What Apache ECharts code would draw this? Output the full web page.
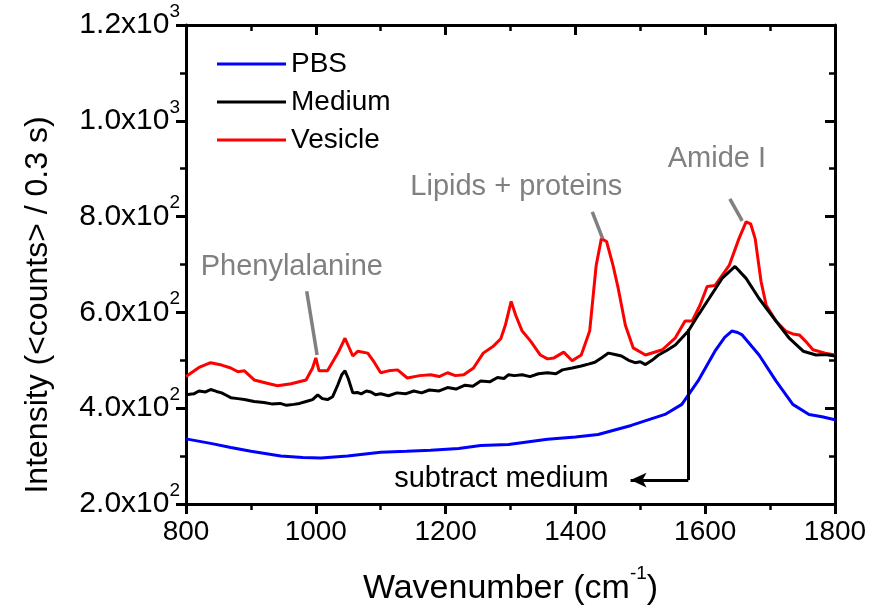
<!DOCTYPE html>
<html><head><meta charset="utf-8">
<script src="https://cdn.jsdelivr.net/npm/echarts@6/dist/echarts.min.js"></script>
<style>html,body{margin:0;padding:0;background:#fff}#c{width:883px;height:613px}</style>
</head><body><div id="c"></div>
<script>
var xTicks = [800, 1000, 1200, 1400, 1600, 1800];
var yTicks = [200, 400, 600, 800, 1000, 1200];

var pbsX = [800, 803, 840, 869, 900, 946, 980, 1008, 1049, 1100, 1140, 1177, 1220, 1254, 1297, 1357, 1400, 1435, 1486, 1538, 1564, 1589, 1615, 1630, 1641, 1650, 1657, 1683, 1709, 1735, 1760, 1780, 1800];
var pbsY = [336, 335, 326, 318, 310, 300, 297, 296, 300, 308, 310, 312, 316, 322, 324, 335, 340, 345, 364, 387, 408, 457, 519, 548, 561, 558, 553, 511, 457, 408, 387, 382, 376];

var medX = [800, 803, 812, 820, 830, 838, 847, 855, 862, 869, 880, 890, 905, 920, 932, 945, 955, 966, 975, 985, 995, 1003, 1010, 1018, 1026, 1034, 1040, 1045, 1050, 1057, 1064, 1070, 1078, 1085, 1092, 1100, 1112, 1125, 1138, 1151, 1163, 1175, 1190, 1203, 1216, 1230, 1242, 1254, 1268, 1280, 1290, 1297, 1306, 1318, 1330, 1343, 1357, 1370, 1380, 1395, 1409, 1420, 1430, 1440, 1451, 1461, 1471, 1482, 1492, 1500, 1508, 1518, 1528, 1540, 1554, 1574, 1590, 1606, 1626, 1646, 1663, 1683, 1709, 1729, 1751, 1771, 1785, 1800];
var medY = [428, 432, 430, 436, 434, 439, 435, 432, 427, 422, 420, 418, 414, 412, 409, 410, 406, 408, 410, 414, 418, 428, 420, 418, 424, 449, 470, 478, 462, 432, 433, 430, 436, 434, 428, 430, 426, 432, 430, 436, 432, 438, 436, 443, 440, 448, 446, 457, 455, 464, 462, 470, 468, 470, 466, 472, 474, 472, 480, 484, 488, 492, 496, 505, 515, 512, 509, 500, 495, 497, 491, 500, 511, 520, 532, 561, 596, 629, 671, 696, 671, 629, 582, 547, 519, 511, 512, 509];

var vesX = [800, 803, 820, 838, 855, 869, 880, 890, 905, 925, 941, 962, 985, 995, 1000, 1005, 1018, 1034, 1045, 1057, 1065, 1080, 1090, 1100, 1112, 1126, 1141, 1160, 1177, 1190, 1203, 1215, 1228, 1243, 1258, 1274, 1285, 1292, 1301, 1308, 1318, 1331, 1346, 1357, 1367, 1382, 1395, 1409, 1422, 1432, 1440, 1448, 1458, 1466, 1477, 1489, 1508, 1534, 1554, 1569, 1580, 1592, 1603, 1615, 1637, 1652, 1663, 1670, 1677, 1686, 1694, 1709, 1724, 1735, 1745, 1756, 1766, 1785, 1800];
var vesY = [466, 470, 485, 495, 490, 484, 476, 478, 459, 452, 447, 451, 459, 484, 505, 478, 478, 515, 546, 509, 519, 515, 496, 474, 478, 480, 463, 468, 470, 466, 474, 468, 470, 484, 515, 530, 545, 573, 623, 594, 561, 540, 511, 503, 505, 517, 499, 511, 561, 698, 754, 748, 698, 650, 573, 526, 511, 522, 547, 582, 582, 615, 654, 656, 698, 754, 789, 785, 754, 665, 615, 582, 561, 555, 553, 538, 522, 515, 511];

var legendNames = ['PBS', 'Medium', 'Vesicle'];
var colors = ['#0000ff', '#000000', '#ff0000'];
var yTitle = 'Intensity (<counts> / 0.3 s)';

function pairs(xs, ys) { return xs.map(function (x, i) { return [x, ys[i]]; }); }

var FONT = 'Liberation Sans, Arial, sans-serif';

function yFmt(v) {
  var e = Math.floor(Math.log10(v) + 1e-9);
  var m = (v / Math.pow(10, e)).toFixed(1);
  return '{b|' + m + 'x10}{s|' + e + '}';
}

var chart = echarts.init(document.getElementById('c'));
var axisLine = { show: true, lineStyle: { color: '#000', width: 3 } };
var tickStyle = { width: 3, color: '#000' };

chart.setOption({
  animation: false,
  backgroundColor: '#fff',
  grid: { left: 186, right: 48, top: 25, bottom: 109, show: false },
  legend: {
    data: legendNames, orient: 'vertical', left: 212, top: 44, itemGap: 8,
    itemWidth: 69, itemHeight: 3, icon: 'rect',
    textStyle: { fontFamily: FONT, fontSize: 28, color: '#000', lineHeight: 30 }
  },
  xAxis: [{
    type: 'value', min: 800, max: 1800, interval: 200, position: 'bottom',
    axisLine: axisLine,
    axisTick: { show: true, length: 10, inside: false, lineStyle: tickStyle },
    minorTick: { show: true, splitNumber: 2, length: 6, lineStyle: { width: 2.5, color: '#000' } },
    axisLabel: { fontFamily: FONT, fontSize: 28, color: '#000', margin: 14,
      formatter: function (v) { return String(v); } },
    splitLine: { show: false },
    name: '{b|Wavenumber (cm}{s|-1}{b|)}', nameLocation: 'middle', nameGap: 60,
    nameTextStyle: { fontFamily: FONT, fontSize: 34, color: '#000',
      rich: { b: { fontFamily: FONT, fontSize: 34, color: '#000', lineHeight: 50 },
              s: { fontFamily: FONT, fontSize: 19, verticalAlign: 'top', lineHeight: 22, color: '#000' } } }
  }, {
    type: 'value', min: 800, max: 1800, interval: 200, position: 'top',
    axisLine: axisLine,
    axisTick: { show: true, length: 10, inside: true, lineStyle: tickStyle },
    minorTick: { show: true, splitNumber: 2, length: 6, lineStyle: { width: 2.5, color: '#000' } },
    axisLabel: { show: false }, splitLine: { show: false }
  }],
  yAxis: [{
    type: 'value', min: 200, max: 1200, interval: 200, position: 'left',
    axisLine: axisLine,
    axisTick: { show: true, length: 10, inside: false, lineStyle: tickStyle },
    minorTick: { show: true, splitNumber: 2, length: 6, lineStyle: { width: 2.5, color: '#000' } },
    axisLabel: { formatter: yFmt, margin: 6,
      rich: { b: { fontFamily: FONT, fontSize: 30, color: '#000', lineHeight: 46 },
              s: { fontFamily: FONT, fontSize: 19, color: '#000', verticalAlign: 'top', lineHeight: 22 } } },
    splitLine: { show: false }
  }, {
    type: 'value', min: 200, max: 1200, interval: 200, position: 'right',
    axisLine: axisLine,
    axisTick: { show: true, length: 10, inside: true, lineStyle: tickStyle },
    minorTick: { show: true, splitNumber: 2, length: 6, lineStyle: { width: 2.5, color: '#000' } },
    axisLabel: { show: false }, splitLine: { show: false }
  }],
  series: [
    { name: 'PBS', type: 'line', data: pairs(pbsX, pbsY), showSymbol: false, symbol: 'none',
      lineStyle: { color: colors[0], width: 3 }, itemStyle: { color: colors[0] }, z: 3 },
    { name: 'Medium', type: 'line', data: pairs(medX, medY), showSymbol: false, symbol: 'none',
      lineStyle: { color: colors[1], width: 3 }, itemStyle: { color: colors[1] }, z: 4 },
    { name: 'Vesicle', type: 'line', data: pairs(vesX, vesY), showSymbol: false, symbol: 'none',
      lineStyle: { color: colors[2], width: 3 }, itemStyle: { color: colors[2] }, z: 2 },
    { name: 'ann', type: 'line', data: [], silent: true,
      markLine: { silent: true, symbol: ['none', 'none'], animation: false,
        label: { show: false },
        lineStyle: { color: '#808080', width: 3.5, type: 'solid' },
        data: [
          [{ coord: [986, 644] }, { coord: [1002, 511] }],
          [{ coord: [1426, 810] }, { coord: [1442, 754] }],
          [{ coord: [1638, 837] }, { coord: [1657, 791] }]
        ] } },
    { name: 'arrow', type: 'line', data: [], silent: true,
      markLine: { silent: true, animation: false, label: { show: false },
        lineStyle: { color: '#000', width: 3, type: 'solid' },
        data: [
          [{ coord: [1574, 565], symbol: 'none' }, { coord: [1574, 250], symbol: 'none' }],
          [{ coord: [1574, 250], symbol: 'none' }, { coord: [1485, 250], symbol: 'arrow', symbolSize: [11, 16] }]
        ] } }
  ]
});

var labels = [
  { t: 'Phenylalanine', x: 963, y: 695, c: '#808080' },
  { t: 'Lipids + proteins', x: 1309, y: 862, c: '#808080' },
  { t: 'Amide I', x: 1618, y: 920, c: '#808080' },
  { t: 'subtract medium', x: 1286, y: 252, c: '#000' }
];
var gfx = labels.map(function (l) {
  var p = chart.convertToPixel({ xAxisIndex: 0, yAxisIndex: 0 }, [l.x, l.y]);
  return { type: 'text', x: p[0], y: p[1], z: 100,
    style: { text: l.t, fill: l.c, font: '29px ' + FONT, textAlign: 'center', textVerticalAlign: 'middle' } };
});
gfx.push({ type: 'text', x: 38, y: 305, rotation: Math.PI / 2, z: 100,
  style: { text: yTitle, fill: '#000', font: '32px ' + FONT, textAlign: 'center', textVerticalAlign: 'middle' } });
chart.setOption({ graphic: gfx });
</script></body></html>
